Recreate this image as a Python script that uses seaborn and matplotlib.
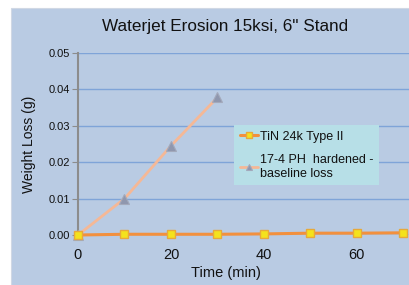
import matplotlib
matplotlib.use("Agg")
import matplotlib.pyplot as plt
from matplotlib.patches import Rectangle
import seaborn as sns
import pandas as pd

# data
tin_time = [0, 10, 20, 30, 40, 50, 60, 70]
tin_loss = [0.0, 0.0002, 0.0002, 0.0002, 0.0003, 0.0005, 0.0005, 0.0006]
ph_time = [0, 10, 20, 30]
ph_loss = [0.0, 0.0100, 0.0245, 0.0378]
series_labels = ["TiN 24k Type II", "17-4 PH  hardened -\nbaseline loss"]

sns.set_style("white")
plt.rcParams["font.family"] = ["Liberation Sans", "DejaVu Sans"]
plt.rcParams["text.color"] = "#111111"
plt.rcParams["xtick.color"] = "#111111"
plt.rcParams["ytick.color"] = "#111111"
plt.rcParams["axes.labelcolor"] = "#111111"

bg = "#b9cbe3"
fig = plt.figure(figsize=(4.09, 2.85), dpi=100)
fig.patch.set_facecolor("white")
fig.patches.append(Rectangle((11 / 409, 0), 1, (285 - 8) / 285, transform=fig.transFigure,
                             facecolor=bg, edgecolor="#d0d8e4", lw=0.8, zorder=-5))

ax = fig.add_axes([78 / 409, 50 / 285, 331 / 409, 182 / 285])
ax.set_facecolor("none")

tin_df = pd.DataFrame({"time": tin_time, "loss": tin_loss})
ph_df = pd.DataFrame({"time": ph_time, "loss": ph_loss})

sns.lineplot(data=tin_df, x="time", y="loss", ax=ax, color="#f2903e", lw=2.2,
             marker="s", markersize=6, markerfacecolor="#f4e21c", markeredgecolor="#e7a93a",
             markeredgewidth=1.0, label=series_labels[0], clip_on=False, zorder=4)
sns.lineplot(data=ph_df, x="time", y="loss", ax=ax, color="#f5b896", lw=2.0,
             marker="^", markersize=6.5, markerfacecolor="#8f97ae", markeredgecolor="#a3a9bb",
             markeredgewidth=0.8, label=series_labels[1], clip_on=False, zorder=3)

ax.set_xlim(0, 71.2)
ax.set_ylim(0, 0.05)
ax.set_xticks([0, 20, 40, 60])
ax.set_yticks([0.0, 0.01, 0.02, 0.03, 0.04, 0.05])
ax.set_yticklabels([f"{v:.2f}" for v in ax.get_yticks()])
ax.yaxis.grid(True, color="#7fa4d8", lw=1.0)
ax.set_axisbelow(True)
for s in ["top", "right", "bottom"]:
    ax.spines[s].set_visible(False)
ax.spines["left"].set_color("#8c8c8c")
ax.spines["left"].set_linewidth(1.5)
ax.tick_params(axis="y", left=True, length=4, color="#8c8c8c", labelcolor="#111111", labelsize=8, pad=2)
ax.tick_params(axis="x", bottom=False, labelsize=10.5, pad=6)

ax.set_xlabel("")
ax.set_ylabel("Weight Loss (g)", fontsize=10, labelpad=9)
fig.text(226 / 409, 12 / 285, "Time (min)", ha="center", va="center", fontsize=10.5)
fig.text(225 / 409, 258 / 285, 'Waterjet Erosion 15ksi, 6" Stand', ha="center", va="center", fontsize=12.3)

leg = ax.legend(loc="upper left", bbox_to_anchor=(0.471, 0.605), frameon=True, fancybox=False,
                facecolor="#b7dfe7", edgecolor="none", framealpha=1, fontsize=9,
                handlelength=1.5, handletextpad=0.1, labelspacing=0.9, borderpad=0.45,
                markerscale=0.75, borderaxespad=0)
leg.get_frame().set_linewidth(0)

fig.savefig("out.png", dpi=100)
